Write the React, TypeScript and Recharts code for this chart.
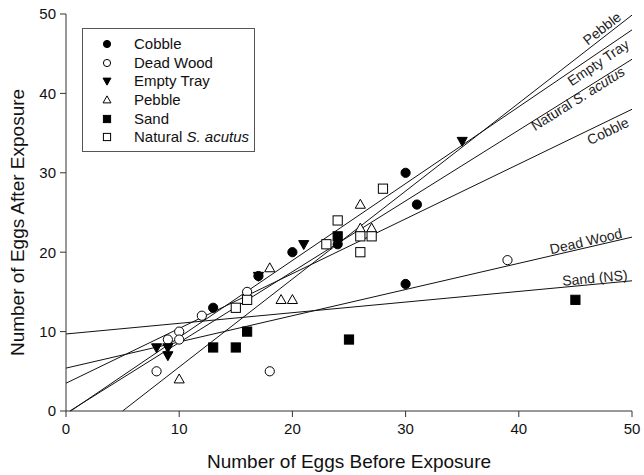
import React from 'react';
import { ScatterChart, Scatter, XAxis, YAxis, ReferenceLine, Legend } from 'recharts';

const cobble = [
  { x: 13, y: 13 }, { x: 17, y: 17 }, { x: 20, y: 20 }, { x: 24, y: 21 },
  { x: 30, y: 30 }, { x: 31, y: 26 }, { x: 30, y: 16 },
];
const deadWood = [
  { x: 8, y: 5 }, { x: 9, y: 9 }, { x: 10, y: 10 }, { x: 10, y: 9 },
  { x: 12, y: 12 }, { x: 16, y: 15 }, { x: 18, y: 5 }, { x: 39, y: 19 },
];
const emptyTray = [
  { x: 8, y: 8 }, { x: 9, y: 8 }, { x: 9, y: 7 }, { x: 17, y: 17 },
  { x: 21, y: 21 }, { x: 35, y: 34 },
];
const pebble = [
  { x: 10, y: 4 }, { x: 18, y: 18 }, { x: 19, y: 14 }, { x: 20, y: 14 },
  { x: 26, y: 26 }, { x: 26, y: 23 }, { x: 27, y: 23 },
];
const sand = [
  { x: 13, y: 8 }, { x: 15, y: 8 }, { x: 16, y: 10 }, { x: 24, y: 22 },
  { x: 25, y: 9 }, { x: 45, y: 14 },
];
const natural = [
  { x: 15, y: 13 }, { x: 16, y: 14 }, { x: 23, y: 21 }, { x: 24, y: 24 },
  { x: 26, y: 22 }, { x: 27, y: 22 }, { x: 26, y: 20 }, { x: 28, y: 28 },
];

const lineNames = ['Pebble', 'Empty Tray', 'Natural S. acutus', 'Cobble', 'Dead Wood', 'Sand (NS)'];
const lineIntercepts = [-5.54, -0.4, -0.3, 3.5, 5.4, 9.7];
const lineSlopes = [1.108, 0.968, 0.892, 0.69, 0.33, 0.134];

const axisTicks = [0, 10, 20, 30, 40, 50];
const legendNames = ['Cobble', 'Dead Wood', 'Empty Tray', 'Pebble', 'Sand', 'Natural S. acutus'];

const FONT = '"Liberation Sans", Arial, sans-serif';
const INK = '#111';

// label placement: distance back along the line from its right end, and baseline offset across it
const labelShift = [10, 11, 13, 9, 9, 4];
const labelOffset = [-3, 13, 9.5, 14, -1.5, -1.5];

type Kind = 'fcircle' | 'ocircle' | 'dtri' | 'otri' | 'fsq' | 'osq';

const drawMarker = (kind: Kind, cx: number, cy: number, s: number) => {
  const fillBlack = kind === 'fcircle' || kind === 'dtri' || kind === 'fsq';
  const fill = fillBlack ? '#000' : '#fff';
  if (kind === 'fcircle' || kind === 'ocircle') {
    return <circle cx={cx} cy={cy} r={s} fill={fill} stroke="#000" strokeWidth={1} />;
  }
  if (kind === 'dtri') {
    const pts = `${cx - s * 1.1},${cy - s * 0.8} ${cx + s * 1.1},${cy - s * 0.8} ${cx},${cy + s * 1.15}`;
    return <polygon points={pts} fill={fill} stroke="#000" strokeWidth={1} />;
  }
  if (kind === 'otri') {
    const pts = `${cx},${cy - s * 1.15} ${cx - s * 1.1},${cy + s * 0.8} ${cx + s * 1.1},${cy + s * 0.8}`;
    return <polygon points={pts} fill={fill} stroke="#000" strokeWidth={1} />;
  }
  return <rect x={cx - s} y={cy - s} width={s * 2} height={s * 2} fill={fill} stroke="#000" strokeWidth={1} />;
};

const makeShape = (kind: Kind) => (props: any) => {
  const { cx, cy } = props;
  if (cx == null || cy == null) return <g />;
  return drawMarker(kind, cx, cy, 4.6);
};

const legendKinds: Kind[] = ['fcircle', 'ocircle', 'dtri', 'otri', 'fsq', 'osq'];

const renderName = (name: string) => {
  if (name.indexOf('S. acutus') >= 0) {
    const base = name.replace('S. acutus', '');
    return (
      <>
        {base}
        <span style={{ fontStyle: 'italic' }}>S. acutus</span>
      </>
    );
  }
  return name;
};

const LegendBox = () => (
  <div
    style={{
      border: '1px solid #555',
      width: 173,
      height: 124,
      boxSizing: 'border-box',
      paddingTop: 6,
      fontFamily: FONT,
      fontSize: 15,
      color: '#111',
      background: '#fff',
    }}
  >
    {legendNames.map((n, i) => (
      <div key={n} style={{ display: 'flex', alignItems: 'center', height: 18.6 }}>
        <svg width={51} height={18} style={{ flex: 'none' }}>
          {drawMarker(legendKinds[i], 24, 9, 3.6)}
        </svg>
        <span style={{ whiteSpace: 'nowrap', lineHeight: '18px' }}>{renderName(n)}</span>
      </div>
    ))}
  </div>
);

const segmentFor = (b: number, m: number) => {
  const x0 = b < 0 ? -b / m : 0;
  const y0 = b + m * x0;
  let x1 = 50;
  let y1 = b + m * 50;
  if (y1 > 50) {
    x1 = (50 - b) / m;
    y1 = 50;
  }
  return [{ x: x0, y: y0 }, { x: x1, y: y1 }];
};

const makeLineLabel = (name: string, shift: number, off: number) => (props: any) => {
  const vb = props.viewBox || {};
  const { x = 0, y = 0, width = 0, height = 0 } = vb;
  const ex = x + width;
  const ey = y;
  const ang = (-Math.atan2(height, width) * 180) / Math.PI;
  const parts = name.indexOf('S. acutus') >= 0 ? ['Natural ', 'S. acutus'] : [name];
  return (
    <text
      transform={`translate(${ex},${ey}) rotate(${ang})`}
      x={-shift}
      y={off}
      textAnchor="end"
      fontFamily={FONT}
      fontSize={14}
      fill="#222"
    >
      {parts.length > 1 ? (
        <>
          <tspan>{parts[0]}</tspan>
          <tspan fontStyle="italic">{parts[1]}</tspan>
        </>
      ) : (
        parts[0]
      )}
    </text>
  );
};

const XTitle = (props: any) => {
  const vb = props.viewBox || {};
  return (
    <text x={vb.x + vb.width / 2} y={468} textAnchor="middle" fontFamily={FONT} fontSize={19} fill="#111">
      Number of Eggs Before Exposure
    </text>
  );
};

const YTitle = (props: any) => {
  const vb = props.viewBox || {};
  const cy = vb.y + vb.height / 2 + 10;
  return (
    <text
      transform={`translate(17,${cy}) rotate(-90)`}
      textAnchor="middle"
      dominantBaseline="central"
      fontFamily={FONT}
      fontSize={19}
      fill="#111"
    >
      Number of Eggs After Exposure
    </text>
  );
};

const seriesList: { name: string; data: { x: number; y: number }[]; kind: Kind }[] = [
  { name: 'Cobble', data: cobble, kind: 'fcircle' },
  { name: 'Dead Wood', data: deadWood, kind: 'ocircle' },
  { name: 'Empty Tray', data: emptyTray, kind: 'dtri' },
  { name: 'Pebble', data: pebble, kind: 'otri' },
  { name: 'Sand', data: sand, kind: 'fsq' },
  { name: 'Natural S. acutus', data: natural, kind: 'osq' },
];

export default function App() {
  return (
    <div style={{ position: 'absolute', left: 0, top: 0, background: '#fff' }}>
      <ScatterChart width={644} height={475} margin={{ top: 14, right: 12, bottom: 14, left: 16 }}>
        <XAxis
          type="number"
          dataKey="x"
          domain={[0, 50]}
          ticks={axisTicks}
          allowDataOverflow
          stroke="#333"
          tickSize={6}
          tickMargin={6}
          height={50}
          tick={{ fill: '#111', fontSize: 15, fontFamily: FONT }}
          label={<XTitle />}
        />
        <YAxis
          type="number"
          dataKey="y"
          domain={[0, 50]}
          ticks={axisTicks}
          allowDataOverflow
          stroke="#333"
          tickSize={6}
          tickMargin={4}
          width={50}
          tick={{ fill: '#111', fontSize: 15, fontFamily: FONT }}
          label={<YTitle />}
        />
        <XAxis xAxisId="top" orientation="top" type="number" domain={[0, 50]} tick={false} tickLine={false} height={0} stroke="#333" />
        <YAxis yAxisId="right" orientation="right" type="number" domain={[0, 50]} tick={false} tickLine={false} width={0} stroke="#333" />
        <Legend
          layout="horizontal"
          verticalAlign="middle"
          align="center"
          content={<LegendBox />}
          wrapperStyle={{ position: 'absolute', left: 82, top: 28, width: 173, height: 124 }}
        />
        {lineNames.map((n, i) => (
          <ReferenceLine
            key={n}
            segment={segmentFor(lineIntercepts[i], lineSlopes[i])}
            stroke={INK}
            strokeWidth={1}
            ifOverflow="visible"
            label={makeLineLabel(n, labelShift[i], labelOffset[i])}
          />
        ))}
        {seriesList.map((s) => (
          <Scatter
            key={s.name}
            name={s.name}
            data={s.data}
            shape={makeShape(s.kind)}
            isAnimationActive={false}
          />
        ))}
      </ScatterChart>
    </div>
  );
}
